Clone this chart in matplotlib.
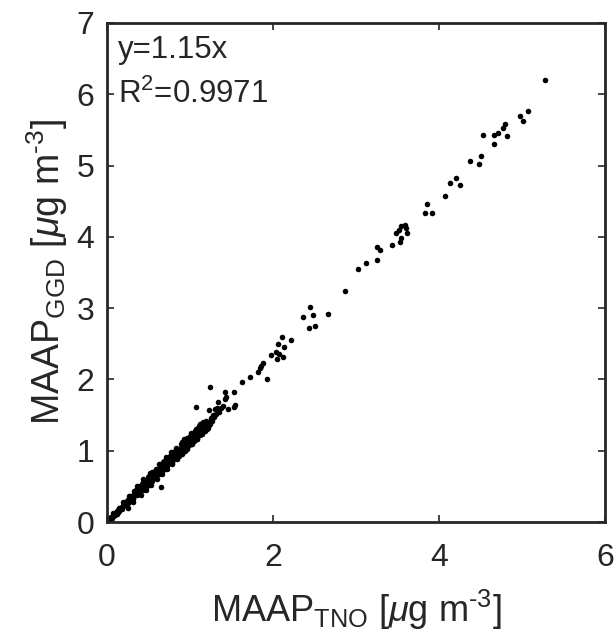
import numpy as np
import matplotlib.pyplot as plt

plt.rcParams['font.family'] = ['Liberation Sans', 'DejaVu Sans']
plt.rcParams['mathtext.fontset'] = 'custom'
plt.rcParams['mathtext.rm'] = 'Liberation Sans'
plt.rcParams['mathtext.it'] = 'Liberation Sans:italic'
plt.rcParams['mathtext.default'] = 'regular'

# dense band of low concentrations
band_x = [0.02, 0.03, 0.04, 0.05, 0.06, 0.07, 0.08, 0.09, 0.10, 0.11, 0.12, 0.13, 0.14, 0.15,
          0.16, 0.17, 0.18, 0.19, 0.20, 0.21, 0.22, 0.23, 0.24, 0.25, 0.26, 0.27, 0.28, 0.29,
          0.30, 0.31, 0.32, 0.33, 0.34, 0.35, 0.36, 0.37, 0.38, 0.39, 0.40, 0.41, 0.42, 0.43,
          0.44, 0.45, 0.46, 0.47, 0.48, 0.49, 0.50, 0.51, 0.52, 0.53, 0.54, 0.55, 0.56, 0.57,
          0.58, 0.59, 0.60, 0.61, 0.62, 0.63, 0.64, 0.65, 0.66, 0.67, 0.68, 0.69, 0.70, 0.71,
          0.72, 0.73, 0.74, 0.75, 0.76, 0.77, 0.78, 0.79, 0.80, 0.81, 0.82, 0.83, 0.84, 0.85,
          0.86, 0.87, 0.88, 0.89, 0.90, 0.91, 0.92, 0.93, 0.94, 0.95, 0.96, 0.97, 0.98, 0.99,
          1.00, 1.01, 1.02, 1.03, 1.04, 1.05, 1.06, 1.07, 1.08, 1.09, 1.10, 1.12, 1.14, 1.15,
          1.17, 1.19, 1.21, 1.23, 1.25, 1.27, 1.29,
          0.35, 0.45, 0.55, 0.58, 0.66, 0.72, 0.80, 0.88, 0.95, 1.05, 1.10, 0.50, 0.40, 0.30,
          0.25, 0.62, 0.70, 0.92, 1.00, 1.03,
          0.05, 0.08, 0.12, 0.15, 0.18, 0.22, 0.26, 0.28, 0.32, 0.34, 0.37, 0.40, 0.43, 0.46,
          0.48, 0.50, 0.53, 0.56, 0.58, 0.61, 0.63, 0.65, 0.68, 0.70, 0.73, 0.75, 0.78, 0.80,
          0.83, 0.85, 0.88, 0.90, 0.93, 0.95, 0.98, 1.00, 1.02, 1.05, 1.08, 1.10, 1.12, 1.15,
          1.18, 1.20, 1.22, 1.26, 1.11, 1.16, 1.19, 1.24, 0.44, 0.52, 0.60, 0.67, 0.74, 0.82,
          0.86, 0.96, 1.04, 0.38, 0.31, 0.21, 0.14, 0.10, 0.24, 0.57, 0.77,
          0.20, 0.27, 0.33, 0.36, 0.42, 0.47, 0.51, 0.54, 0.59, 0.64, 0.69, 0.71, 0.76, 0.79,
          0.84, 0.87, 0.91, 0.94, 0.97, 1.01, 1.06, 1.09, 1.13, 1.17, 0.29, 0.39, 0.49, 0.55,
          0.62, 0.68, 0.81, 0.89, 0.99, 1.07, 1.14,
          0.25, 0.32, 0.41, 0.47, 0.53, 0.60, 0.66, 0.73, 0.79, 0.85, 0.91, 0.97, 1.03, 1.09,
          1.15, 1.21, 0.36, 0.44, 0.52, 0.63, 0.71, 0.77, 0.83, 0.93, 1.01, 1.12]
band_y = [0.02, 0.05, 0.04, 0.07, 0.06, 0.09, 0.08, 0.11, 0.10, 0.13, 0.15, 0.14, 0.17, 0.16,
          0.19, 0.20, 0.21, 0.23, 0.22, 0.25, 0.26, 0.25, 0.29, 0.28, 0.31, 0.30, 0.33, 0.35,
          0.34, 0.37, 0.36, 0.39, 0.41, 0.40, 0.43, 0.42, 0.45, 0.46, 0.44, 0.48, 0.49, 0.47,
          0.52, 0.51, 0.54, 0.53, 0.57, 0.55, 0.58, 0.60, 0.62, 0.59, 0.63, 0.66, 0.64, 0.67,
          0.69, 0.66, 0.70, 0.72, 0.70, 0.73, 0.75, 0.74, 0.77, 0.76, 0.79, 0.81, 0.78, 0.82,
          0.84, 0.83, 0.86, 0.85, 0.88, 0.90, 0.87, 0.92, 0.91, 0.94, 0.93, 0.96, 0.98, 0.95,
          1.00, 0.99, 1.02, 1.01, 1.04, 1.06, 1.03, 1.08, 1.07, 1.10, 1.09, 1.12, 1.11, 1.14,
          1.16, 1.13, 1.18, 1.17, 1.20, 1.19, 1.22, 1.24, 1.21, 1.26, 1.25, 1.28, 1.31, 1.27,
          1.35, 1.34, 1.39, 1.36, 1.43, 1.41, 1.47,
          0.45, 0.48, 0.61, 0.72, 0.73, 0.87, 0.88, 0.97, 1.06, 1.14, 1.30, 0.62, 0.50, 0.37,
          0.31, 0.75, 0.84, 1.10, 1.12, 1.22,
          0.03, 0.12, 0.11, 0.20, 0.18, 0.28, 0.27, 0.36, 0.34, 0.44, 0.40, 0.49, 0.45, 0.57,
          0.51, 0.63, 0.57, 0.69, 0.62, 0.75, 0.68, 0.80, 0.73, 0.86, 0.79, 0.90, 0.83, 0.96,
          0.90, 1.02, 0.95, 1.08, 1.01, 1.13, 1.06, 1.20, 1.10, 1.24, 1.16, 1.32, 1.22, 1.36,
          1.28, 1.42, 1.32, 1.46, 1.35, 1.40, 1.30, 1.38, 0.56, 0.65, 0.66, 0.82, 0.82, 0.99,
          0.93, 1.16, 1.13, 0.47, 0.32, 0.27, 0.14, 0.13, 0.26, 0.70, 0.94,
          0.28, 0.36, 0.43, 0.38, 0.54, 0.50, 0.65, 0.58, 0.75, 0.69, 0.85, 0.76, 0.93, 0.86,
          1.02, 0.93, 1.12, 1.00, 1.18, 1.09, 1.28, 1.17, 1.38, 1.29, 0.30, 0.41, 0.61, 0.70,
          0.72, 0.84, 0.89, 1.09, 1.10, 1.30, 1.25,
          0.20, 0.28, 0.38, 0.45, 0.52, 0.60, 0.67, 0.75, 0.82, 0.89, 0.96, 1.03, 1.09, 1.16,
          1.23, 1.30, 0.50, 0.60, 0.69, 0.81, 0.91, 0.98, 1.04, 1.16, 1.25, 1.38]

# scattered higher concentrations
high_x = [0.65, 1.08, 1.23, 1.24, 1.34, 1.42, 1.42, 1.53, 1.53, 1.55, 1.46, 1.44, 1.32,
          1.35, 1.38, 1.30, 1.40, 1.28, 1.33, 1.63, 1.72, 1.93, 1.82, 1.84, 1.86, 1.88,
          1.98, 2.04, 2.05, 2.06, 2.08, 2.11, 2.12, 2.14, 2.22, 2.36, 2.43, 2.45, 2.49,
          2.51, 2.67, 2.87, 3.03, 3.12, 3.25, 3.26, 3.29, 3.44, 3.49, 3.52, 3.53, 3.55,
          3.55, 3.59, 3.61, 3.62, 3.83, 3.86, 3.92, 4.08, 4.13, 4.21, 4.26, 4.38, 4.49,
          4.51, 4.53, 4.66, 4.67, 4.71, 4.77, 4.80, 4.82, 4.98, 5.02, 5.08, 5.28]
high_y = [0.49, 1.61, 1.57, 1.90, 1.69, 1.73, 1.83, 1.62, 1.82, 1.64, 1.58, 1.75, 1.52,
          1.55, 1.60, 1.58, 1.63, 1.50, 1.60, 1.97, 2.04, 2.01, 2.11, 2.16, 2.19, 2.23,
          2.34, 2.39, 2.29, 2.50, 2.35, 2.59, 2.31, 2.46, 2.55, 2.88, 2.72, 3.01, 2.91,
          2.75, 2.92, 3.24, 3.55, 3.63, 3.67, 3.86, 3.81, 3.89, 4.05, 4.10, 3.93, 4.15,
          3.99, 4.16, 4.12, 4.05, 4.34, 4.46, 4.34, 4.57, 4.76, 4.83, 4.72, 5.06, 5.02,
          5.14, 5.43, 5.30, 5.43, 5.46, 5.53, 5.58, 5.42, 5.69, 5.62, 5.77, 6.20]

tick_vals = [0, 2, 4, 6]
txt_col = '#262626'

fig = plt.figure(figsize=(6.14, 6.37), dpi=100)
ax = fig.add_axes([0.174, 0.1805, 0.811, 0.7835])

ax.scatter(band_x + high_x, band_y + high_y, s=16, color='black', linewidths=0)

ax.set_xlim(0, 6)
ax.set_ylim(0, 7)
ax.set_xticks(tick_vals)
ax.set_yticks(range(8))
ax.tick_params(direction='in', length=5, width=1.2, top=True, right=True,
               labelsize=23, colors=txt_col)
ax.tick_params(axis='x', pad=15)
ax.tick_params(axis='y', pad=9)
for sp in ax.spines.values():
    sp.set_linewidth(2)
    sp.set_color(txt_col)

ax.set_xlabel('MAAP$_{\\mathrm{TNO}}$ [$\\mathit{\\mu}$g m$^{\\text{-3}}$]', fontsize=26, color=txt_col, labelpad=11)
ax.set_ylabel('MAAP$_{\\mathrm{GGD}}$ [$\\mathit{\\mu}$g m$^{\\text{-3}}$]', fontsize=27, color=txt_col, labelpad=5)

ax.text(0.022, 0.946, 'y=1.15x', transform=ax.transAxes, fontsize=22.5, color=txt_col, va='center')
ax.text(0.022, 0.856, 'R$^2$=0.9971', transform=ax.transAxes, fontsize=22.5, color=txt_col, va='center')

fig.savefig('out.png', dpi=100)
